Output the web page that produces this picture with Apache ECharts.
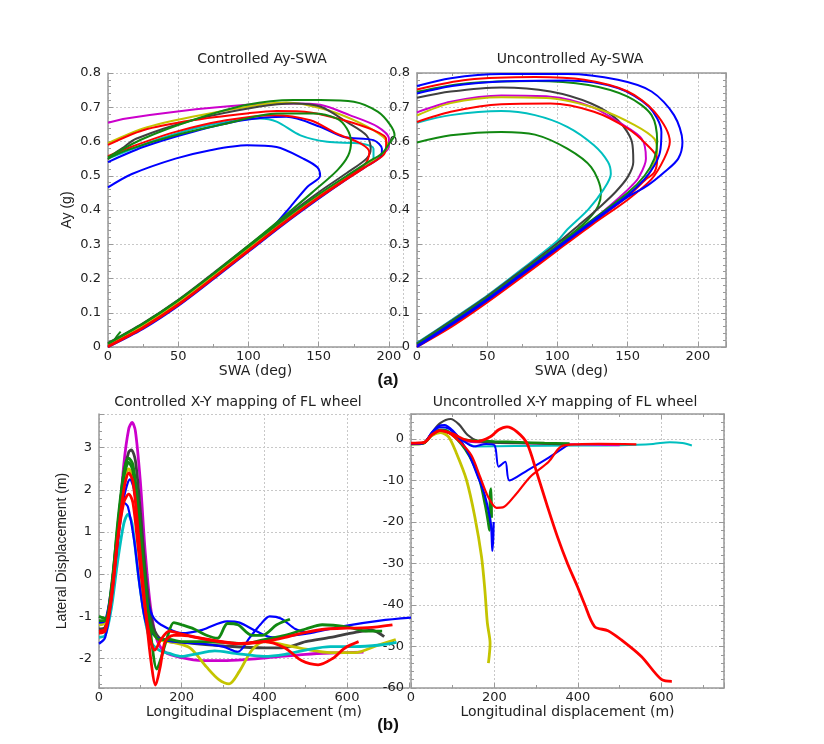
<!DOCTYPE html>
<html>
<head>
<meta charset="utf-8">
<script src="https://cdn.jsdelivr.net/npm/echarts@6/dist/echarts.min.js"></script>
<style>
  html, body { margin: 0; background: #fff; }
  #main { width: 824px; height: 744px; }
</style>
</head>
<body>
<div id="main"></div>
<script>
// colours used by the original plot
var C = {
  blue: "#0000ff", red: "#ff0000", green: "#118811", magenta: "#cc00cc",
  yellow: "#c4c400", cyan: "#00bfbf", gray: "#404040"
};

// ---- (a) Controlled Ay-SWA : [SWA deg, Ay g]
var ctrlMagenta = [[0,0.008],[25,0.064],[50,0.132],[75,0.209],[100,0.289],[125,0.368],[150,0.442],[170,0.497],[185,0.537],[195,0.562],[200,0.585],[200,0.608],[192,0.643],[172,0.677],[151,0.707],[132,0.711],[99,0.707],[48,0.687],[13,0.667],[0,0.655]];
var ctrlYellow = [[0,0.006],[25,0.063],[50,0.131],[75,0.208],[100,0.288],[125,0.367],[150,0.441],[170,0.496],[185,0.536],[195,0.562],[199,0.589],[196,0.613],[180,0.653],[156,0.692],[127,0.714],[108,0.707],[60,0.672],[25,0.638],[0,0.595]];
var ctrlGray = [[0,0.012],[25,0.07],[50,0.138],[75,0.216],[100,0.296],[125,0.376],[150,0.452],[170,0.508],[184,0.55],[187,0.579],[184,0.618],[170,0.657],[151,0.702],[132,0.711],[108,0.702],[60,0.662],[20,0.608],[10,0.58],[3,0.56],[0,0.548]];
var ctrlRed1 = [[0,0],[25,0.055],[50,0.122],[75,0.2],[100,0.28],[125,0.36],[150,0.435],[170,0.49],[185,0.53],[196,0.56],[198,0.59],[198,0.608],[189,0.633],[168,0.662],[144,0.685],[120,0.689],[99,0.682],[60,0.662],[25,0.633],[0,0.59]];
var ctrlRed2 = [[0,0.003],[25,0.058],[50,0.125],[75,0.203],[100,0.283],[125,0.363],[150,0.438],[170,0.493],[182,0.53],[185,0.548],[186,0.569],[180,0.594],[163,0.623],[144,0.662],[118,0.677],[84,0.662],[48,0.628],[13,0.579],[0,0.557]];
var ctrlBlue1 = [[0,0],[25,0.053],[50,0.12],[75,0.198],[100,0.278],[125,0.358],[150,0.433],[170,0.49],[185,0.53],[194,0.555],[195,0.579],[189,0.604],[168,0.613],[151,0.643],[127,0.672],[96,0.662],[60,0.628],[25,0.584],[0,0.54]];
var ctrlCyan = [[0,0.006],[25,0.064],[50,0.132],[75,0.21],[100,0.29],[125,0.369],[150,0.443],[170,0.498],[185,0.536],[189,0.55],[189,0.579],[180,0.594],[156,0.599],[137,0.618],[120,0.658],[108,0.667],[72,0.648],[37,0.608],[0,0.55]];
var ctrlGreen1 = [[0,0.01],[25,0.068],[50,0.136],[75,0.213],[100,0.293],[125,0.372],[150,0.446],[170,0.5],[185,0.54],[195,0.565],[201,0.599],[204,0.618],[201,0.648],[192,0.687],[175,0.716],[151,0.721],[132,0.721],[99,0.707],[60,0.662],[25,0.608],[0,0.554]];
var ctrlGreen2 = [[0,0.01],[25,0.068],[50,0.136],[75,0.214],[100,0.296],[125,0.38],[145,0.45],[163,0.515],[171,0.559],[173,0.599],[170,0.638],[163,0.667],[146,0.682],[120,0.682],[84,0.652],[48,0.618],[13,0.574],[0,0.55]];
var ctrlBlue2 = [[0,0.003],[25,0.058],[50,0.127],[75,0.205],[100,0.288],[115,0.34],[130,0.41],[142,0.468],[151,0.5],[149,0.525],[139,0.55],[120,0.584],[99,0.589],[72,0.574],[48,0.55],[17,0.505],[0,0.466]];
var ctrlGreenStub = [[3,0.01],[6,0.03],[9,0.045]];

// ---- (a) Uncontrolled Ay-SWA
var uncBlue1 = [[0,0],[25,0.066],[50,0.136],[75,0.212],[100,0.288],[125,0.364],[150,0.438],[164,0.471],[176,0.51],[186,0.55],[189,0.599],[183,0.677],[167,0.746],[143,0.78],[107,0.797],[60,0.797],[24,0.785],[0,0.762]];
var uncRed1 = [[0,0],[25,0.06],[50,0.13],[75,0.205],[100,0.282],[125,0.358],[150,0.43],[167,0.49],[176,0.55],[180,0.599],[169,0.687],[150,0.746],[119,0.78],[84,0.788],[36,0.78],[0,0.752]];
var uncGreen1 = [[0,0.008],[25,0.074],[50,0.144],[75,0.22],[100,0.296],[125,0.372],[150,0.45],[162,0.5],[169,0.55],[171,0.599],[167,0.677],[150,0.731],[122,0.765],[84,0.777],[36,0.77],[0,0.745]];
var uncBlue2 = [[0,0.004],[25,0.07],[50,0.14],[75,0.216],[100,0.292],[125,0.368],[150,0.443],[162,0.49],[169,0.53],[173,0.569],[174,0.628],[165,0.702],[143,0.756],[107,0.778],[60,0.775],[25,0.762],[0,0.74]];
var uncGray = [[0,0.01],[25,0.078],[50,0.148],[75,0.225],[100,0.303],[115,0.355],[131,0.412],[141,0.451],[150,0.496],[154,0.54],[153,0.599],[143,0.662],[124,0.711],[95,0.746],[60,0.758],[24,0.746],[0,0.728]];
var uncMagenta = [[0,0.006],[25,0.072],[50,0.142],[75,0.218],[100,0.294],[125,0.37],[145,0.44],[153,0.471],[158,0.496],[163,0.55],[160,0.608],[145,0.653],[124,0.702],[95,0.731],[60,0.734],[24,0.716],[0,0.685]];
var uncYellow = [[0,0.005],[25,0.071],[50,0.141],[75,0.217],[100,0.293],[125,0.369],[150,0.443],[162,0.49],[167,0.52],[171,0.569],[169,0.608],[155,0.648],[131,0.692],[95,0.726],[60,0.729],[24,0.712],[0,0.676]];
var uncRed2 = [[0,0.002],[25,0.064],[50,0.134],[75,0.21],[100,0.286],[125,0.362],[150,0.44],[163,0.49],[169,0.51],[171,0.55],[164,0.589],[150,0.638],[126,0.687],[95,0.711],[60,0.709],[24,0.687],[0,0.657]];
var uncCyan = [[0,0.012],[25,0.08],[50,0.15],[75,0.228],[100,0.31],[107,0.343],[122,0.402],[133,0.461],[138,0.505],[136,0.54],[126,0.589],[107,0.643],[84,0.677],[60,0.689],[24,0.677],[0,0.655]];
var uncGreen2 = [[0,0.01],[25,0.076],[50,0.147],[75,0.224],[100,0.305],[107,0.32],[122,0.373],[129,0.412],[131,0.451],[124,0.525],[107,0.579],[84,0.62],[60,0.628],[24,0.618],[0,0.597]];

// ---- (b) Controlled X-Y : [longitudinal m, lateral m]
var xyCtrlMagenta = [[0,-1.35],[15,-1.3],[30,-0.6],[45,0.8],[60,2.6],[72,3.45],[80,3.6],[88,3.4],[100,2.2],[112,0.5],[125,-0.8],[140,-1.55],[160,-1.85],[200,-1.98],[250,-2.05],[300,-2.05],[360,-2.02],[420,-1.97],[500,-1.9],[560,-1.87],[640,-1.85]];
var xyCtrlGray = [[0,-1.3],[15,-1.25],[30,-0.5],[45,1.0],[60,2.4],[72,2.9],[78,2.95],[88,2.7],[100,1.5],[115,-0.2],[130,-1.2],[145,-1.5],[170,-1.6],[200,-1.62],[300,-1.7],[400,-1.75],[450,-1.74],[500,-1.6],[560,-1.5],[620,-1.38],[660,-1.33],[690,-1.48]];
var xyCtrlGreen1 = [[0,-1.0],[15,-1.05],[30,-0.4],[45,1.2],[60,2.4],[72,2.75],[82,2.6],[95,1.6],[110,0.0],[125,-1.4],[140,-2.25],[150,-2.0],[165,-1.5],[181,-1.15],[200,-1.2],[230,-1.3],[260,-1.45],[287,-1.52],[311,-1.17],[336,-1.2],[370,-1.45],[395,-1.45],[430,-1.2],[462,-1.07]];
var xyCtrlGreen2 = [[0,-1.1],[15,-1.1],[30,-0.3],[45,1.1],[60,2.3],[72,2.65],[82,2.45],[95,1.4],[110,-0.2],[125,-1.2],[145,-1.55],[170,-1.55],[200,-1.6],[250,-1.6],[300,-1.62],[350,-1.65],[400,-1.55],[450,-1.45],[500,-1.3],[540,-1.2],[600,-1.25],[650,-1.35],[685,-1.35]];
var xyCtrlYellow = [[0,-1.2],[15,-1.15],[30,-0.4],[45,1.0],[60,2.2],[72,2.5],[82,2.3],[95,1.2],[110,-0.3],[125,-1.3],[145,-1.55],[180,-1.62],[220,-1.75],[260,-2.2],[290,-2.5],[315,-2.6],[340,-2.3],[370,-1.8],[400,-1.6],[450,-1.68],[500,-1.78],[560,-1.86],[620,-1.86],[670,-1.7],[718,-1.55]];
var xyCtrlRed1 = [[0,-1.4],[15,-1.35],[30,-0.6],[45,0.8],[60,2.0],[72,2.4],[82,2.2],[95,1.0],[110,-0.6],[125,-2.0],[137,-2.63],[148,-2.2],[160,-1.6],[180,-1.45],[200,-1.45],[260,-1.55],[330,-1.65],[400,-1.6],[450,-1.75],[490,-2.05],[530,-2.15],[565,-2.0],[595,-1.75],[628,-1.6]];
var xyCtrlRed2 = [[0,-1.35],[15,-1.3],[30,-0.5],[45,0.8],[60,1.7],[72,1.9],[82,1.7],[95,0.6],[110,-0.7],[125,-1.6],[135,-1.8],[150,-1.55],[170,-1.35],[200,-1.42],[250,-1.52],[300,-1.6],[350,-1.65],[400,-1.6],[450,-1.5],[500,-1.38],[550,-1.3],[600,-1.28],[650,-1.27],[710,-1.2]];
var xyCtrlBlue1 = [[0,-1.65],[15,-1.5],[30,-0.6],[45,0.7],[60,1.8],[75,2.25],[85,2.0],[100,0.8],[115,-0.5],[130,-1.0],[150,-1.2],[200,-1.4],[250,-1.32],[310,-1.12],[340,-1.15],[380,-1.35],[420,-1.5],[470,-1.45],[520,-1.38],[600,-1.22],[680,-1.1],[755,-1.03]];
var xyCtrlBlue2 = [[0,-1.15],[15,-1.1],[30,-0.3],[45,1.0],[60,1.7],[70,1.6],[85,0.8],[100,-0.4],[115,-1.2],[140,-1.5],[180,-1.6],[250,-1.65],[300,-1.72],[336,-1.84],[365,-1.5],[390,-1.2],[413,-1.0],[440,-1.05],[475,-1.3],[500,-1.38]];
var xyCtrlCyan = [[0,-1.5],[15,-1.45],[30,-0.8],[45,0.3],[60,1.2],[70,1.42],[80,1.2],[95,0.0],[110,-1.0],[125,-1.6],[145,-1.8],[170,-1.88],[200,-1.95],[230,-1.9],[280,-1.82],[330,-1.88],[400,-1.95],[450,-1.9],[500,-1.8],[560,-1.72],[620,-1.72],[680,-1.68],[720,-1.62]];

// ---- (b) Uncontrolled X-Y
var xyUncGray = [[0,-1.2],[30,-1.0],[50,1.5],[70,3.8],[95,4.8],[115,3.5],[135,1.0],[160,-0.5],[200,-0.9],[300,-1.1],[380,-1.3]];
var xyUncBlue1 = [[0,-1.2],[30,-1.0],[50,1.5],[65,3.0],[80,3.3],[100,2.0],[120,-0.5],[140,-4],[160,-9],[175,-13],[185,-17],[192,-21],[195,-27],[197,-24],[198,-20]];
var xyUncBlue2 = [[0,-1.2],[30,-1.0],[50,1.5],[70,2.8],[90,2.5],[120,0.0],[150,-1.8],[180,-1.2],[200,-1.5],[210,-6.7],[226,-5.5],[236,-10],[280,-7.5],[330,-4.5],[375,-1.5]];
var xyUncRed1 = [[0,-1.0],[30,-0.9],[50,1.0],[70,2.0],[90,1.5],[120,-1.0],[145,-4.0],[165,-9],[185,-14],[205,-16.6],[220,-16.5],[250,-13.5],[286,-9.1],[330,-5.5],[359,-1.9],[400,-1.3],[450,-1.2],[540,-1.3]];
var xyUncRed2 = [[0,-1.0],[30,-0.9],[50,1.0],[70,2.0],[100,1.2],[130,-0.2],[160,-0.6],[190,0.5],[210,2.2],[230,2.9],[254,1.7],[278,-1.1],[302,-8.3],[327,-16.3],[351,-23.6],[375,-30],[399,-35.6],[415,-39.6],[440,-45.2],[472,-46.2],[504,-48.4],[552,-52.4],[601,-58],[625,-58.4]];
var xyUncGreen1 = [[0,-1.2],[30,-1.0],[50,1.0],[70,2.2],[85,2.0],[110,0.0],[130,-2.5],[150,-6],[165,-10],[178,-16],[185,-20],[188,-22],[190,-13],[192,-12],[193,-19]];
var xyUncGreen2 = [[0,-1.2],[30,-1.0],[50,1.0],[70,2.0],[90,1.5],[120,0.0],[150,-0.4],[200,-0.6],[260,-0.8],[320,-1.0],[380,-1.1]];
var xyUncYellow = [[0,-1.2],[30,-1.0],[50,0.8],[70,1.5],[90,0.5],[109,-3.5],[133,-9.9],[153,-18.8],[169,-28.4],[177,-36.4],[183,-44.4],[189.5,-49.2],[185.5,-54]];
var xyUncMagenta = [[0,-1.2],[30,-1.0],[50,1.0],[70,2.0],[100,1.2],[130,-0.5],[160,-0.8],[250,-1.0],[350,-1.2],[500,-1.5]];
var xyUncCyan = [[0,-1.2],[30,-1.0],[50,1.0],[70,2.0],[100,1.0],[130,-0.8],[155,-1.8],[250,-1.7],[400,-1.6],[500,-1.5],[580,-1.2],[620,-0.8],[650,-1.0],[673,-1.6]];

var FONT = "DejaVu Sans";
var labelStyle = { color: "#222", fontSize: 13, fontFamily: FONT };

function xAx(grid, min, max, interval, name, pos) {
  var top = pos === "top";
  return {
    type: "value", gridIndex: grid, min: min, max: max, interval: interval,
    position: top ? "top" : "bottom",
    name: top ? "" : name, nameLocation: "middle", nameGap: grid < 2 ? 13 : 16,
    nameTextStyle: { color: "#222", fontSize: 14, fontFamily: FONT },
    axisLine: { show: true, onZero: false, lineStyle: { color: "#999", width: 1.5 } },
    axisTick: { show: true, inside: true, length: 5, lineStyle: { color: "#999" } },
    minorTick: { show: true, splitNumber: 2, length: 3, lineStyle: { color: "#999" } },
    axisLabel: { show: !top, margin: 3, showMaxLabel: false, ...labelStyle },
    splitLine: { show: !top, lineStyle: { color: "#c8c8c8", type: [2, 2] } }
  };
}
function yAx(grid, min, max, interval, name, gap, pos) {
  var right = pos === "right";
  return {
    type: "value", gridIndex: grid, min: min, max: max, interval: interval,
    position: right ? "right" : "left",
    name: right ? "" : name, nameLocation: "middle", nameGap: gap,
    nameTextStyle: { color: "#222", fontSize: 14, fontFamily: "Liberation Sans" },
    axisLine: { show: true, onZero: false, lineStyle: { color: "#999", width: 1.5 } },
    axisTick: { show: true, inside: true, length: 5, lineStyle: { color: "#999" } },
    minorTick: { show: true, splitNumber: 5, length: 3, lineStyle: { color: "#999" } },
    axisLabel: { show: !right, margin: 7, showMinLabel: min === 0 || min === -60, showMaxLabel: max === 0.8, ...labelStyle },
    splitLine: { show: !right, lineStyle: { color: "#c8c8c8", type: [2, 2] } }
  };
}

function line(idx, data, color, width) {
  return {
    type: "line", xAxisIndex: idx, yAxisIndex: idx, data: data,
    showSymbol: false, symbol: "none", smooth: 0.3, silent: true,
    lineStyle: { color: color, width: width || 2 }
  };
}

var chart = echarts.init(document.getElementById("main"), null, { renderer: "canvas" });
var option = {
  backgroundColor: "#fff",
  animation: false,
  title: [
    { text: "Controlled Ay-SWA", left: 262, top: 52, textAlign: "center" },
    { text: "Uncontrolled Ay-SWA", left: 570, top: 52, textAlign: "center" },
    { text: "(a)", left: 388, top: 372, textAlign: "center" },
    { text: "Controlled X-Y mapping of FL wheel", left: 238, top: 395, textAlign: "center" },
    { text: "Uncontrolled X-Y mapping of FL wheel", left: 565, top: 395, textAlign: "center" },
    { text: "(b)", left: 388, top: 717, textAlign: "center" }
  ].map(function (t) {
    var bold = t.text.charAt(0) === "(";
    t.textStyle = bold
      ? { fontSize: 17, fontWeight: "bold", fontFamily: "Liberation Sans", color: "#111" }
      : { fontSize: 14, fontWeight: "normal", fontFamily: FONT, color: "#222" };
    t.padding = 0;
    return t;
  }),
  grid: [
    { left: 108, top: 73, width: 295, height: 274 },
    { left: 417, top: 73, width: 309, height: 274 },
    { left: 99, top: 414, width: 310, height: 274 },
    { left: 411, top: 414, width: 313, height: 274 }
  ],
  xAxis: [
    xAx(0, 0, 210, 50, "SWA (deg)"),
    xAx(1, 0, 220, 50, "SWA (deg)"),
    xAx(2, 0, 750, 200, "Longitudinal Displacement (m)"),
    xAx(3, 0, 750, 200, "Longitudinal displacement (m)"),
    xAx(1, 0, 220, 50, "", "top"),
    xAx(3, 0, 750, 200, "", "top")
  ],
  yAxis: [
    yAx(0, 0, 0.8, 0.1, "Ay (g)", 34),
    yAx(1, 0, 0.8, 0.1, ""),
    yAx(2, -2.7, 3.8, null, "Lateral Displacement (m)", 30),
    yAx(3, -60, 6, 10, ""),
    yAx(1, 0, 0.8, 0.1, "", 0, "right"),
    yAx(3, -60, 6, 10, "", 0, "right")
  ],
  series: [
    line(0, ctrlGreenStub, C.green),
    line(0, ctrlBlue2, C.blue),
    line(0, ctrlCyan, C.cyan),
    line(0, ctrlMagenta, C.magenta),
    line(0, ctrlYellow, C.yellow),
    line(0, ctrlGray, C.gray),
    line(0, ctrlBlue1, C.blue),
    line(0, ctrlRed2, C.red),
    line(0, ctrlRed1, C.red),
    line(0, ctrlGreen2, C.green),
    line(0, ctrlGreen1, C.green),

    line(1, uncGreen2, C.green),
    line(1, uncCyan, C.cyan),
    line(1, uncGray, C.gray),
    line(1, uncMagenta, C.magenta),
    line(1, uncYellow, C.yellow),
    line(1, uncRed2, C.red),
    line(1, uncGreen1, C.green),
    line(1, uncBlue2, C.blue),
    line(1, uncRed1, C.red),
    line(1, uncBlue1, C.blue),

    line(2, xyCtrlMagenta, C.magenta, 2.8),
    line(2, xyCtrlGray, C.gray, 2.8),
    line(2, xyCtrlYellow, C.yellow, 2.8),
    line(2, xyCtrlCyan, C.cyan, 2.8),
    line(2, xyCtrlBlue2, C.blue, 2.2),
    line(2, xyCtrlBlue1, C.blue, 2.2),
    line(2, xyCtrlGreen2, C.green, 2.8),
    line(2, xyCtrlGreen1, C.green, 2.8),
    line(2, xyCtrlRed2, C.red, 2.8),
    line(2, xyCtrlRed1, C.red, 2.8),

    line(3, xyUncCyan, C.cyan, 2),
    line(3, xyUncMagenta, C.magenta, 2),
    line(3, xyUncGray, C.gray, 2.2),
    line(3, xyUncGreen2, C.green, 2.5),
    line(3, xyUncYellow, C.yellow, 2.8),
    line(3, xyUncGreen1, C.green, 2.8),
    line(3, xyUncBlue1, C.blue, 2.2),
    line(3, xyUncBlue2, C.blue, 2),
    line(3, xyUncRed1, C.red, 2.2),
    line(3, xyUncRed2, C.red, 2.8)
  ]
};
chart.setOption(option);
</script>
</body>
</html>
